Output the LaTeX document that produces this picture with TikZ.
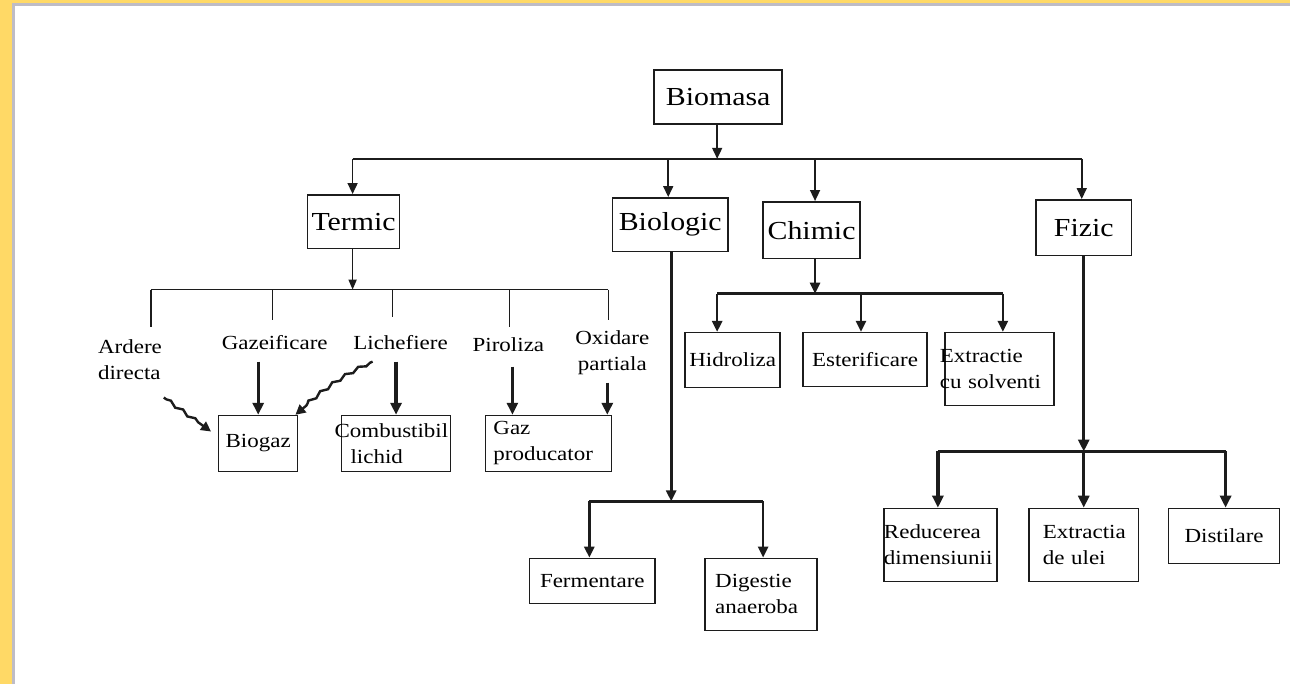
\documentclass[tikz,border=0pt]{standalone}
\usepackage{fontspec}
\setmainfont{Liberation Serif}[FakeStretch=1.15]
\usetikzlibrary{arrows.meta,decorations.pathmorphing}

\definecolor{frameyellow}{RGB}{255,217,102}
\definecolor{framegrey}{RGB}{190,188,198}
\definecolor{ink}{RGB}{28,28,28}

\tikzset{
  bigtxt/.style={font=\fontsize{26}{30}\selectfont},
  smalltxt/.style={font=\fontsize{20}{26}\selectfont},
  box/.style={draw=ink, line width=1.5pt, fill=white, inner sep=0pt, smalltxt, align=center},
  bigbox/.style={box, bigtxt},
  lbl/.style={inner sep=0pt, smalltxt},
  thinline/.style={draw=ink, line width=1.6pt},
  medline/.style={draw=ink, line width=2.6pt},
  thickline/.style={draw=ink, line width=3.2pt},
  tip/.style={-{Triangle[width=10pt,length=11pt]}},
  bigtip/.style={-{Triangle[width=11pt,length=12pt]}},
  wavy/.style={draw=ink, line width=2.4pt, -{Triangle[width=10pt,length=10pt]},
    decorate, decoration={snake, amplitude=1.6pt, segment length=15pt, pre length=3pt, post length=10pt}}
}

\begin{document}
\begin{tikzpicture}[x=1pt, y=-1pt]
  % page frame
  \fill[frameyellow] (0,0) rectangle (1291,685);
  \fill[white] (13,4) rectangle (1291,685);
  \draw[framegrey, line width=3pt] (13.5,685) -- (13.5,4.5) -- (1291,4.5);
  \useasboundingbox (0,0) rectangle (1291,685);

  % ---- top level ----
  \node[bigbox, minimum width=128pt, minimum height=54pt] (biomasa) at (719,97) {Biomasa};
  \node[bigbox, minimum width=92pt,  minimum height=54pt] (termic)   at (354,222) {Termic};
  \node[bigbox, minimum width=116pt, minimum height=54pt] (biologic) at (671,225) {Biologic};
  \node[bigbox, minimum width=97pt,  minimum height=57pt] (chimic)   at (812.5,230.5) {Chimic};
  \node[bigbox, minimum width=96pt,  minimum height=56pt] (fizic)    at (1085,228) {Fizic};

  \coordinate (b0) at (718,159);
  \coordinate (bT) at (353,159);
  \coordinate (bB) at (669,159);
  \coordinate (bC) at (816,159);
  \coordinate (bF) at (1083,159);
  \draw[thinline, tip] (biomasa.south -| b0) -- (b0);
  \draw[thinline, rounded corners=3pt] (bT) -- (bF);
  \draw[thinline, tip] (bT) -- (bT |- termic.north);
  \draw[thinline, tip] (bB) -- (bB |- biologic.north);
  \draw[thinline, tip] (bC) -- (bC |- chimic.north);
  \draw[thinline, tip] (bF) -- (bF |- fizic.north);

  % ---- Termic branch ----
  \node[lbl, align=left, anchor=west] (ardere) at (98,360) {Ardere\\directa};
  \node[lbl] (gazeif) at (275,343) {Gazeificare};
  \node[lbl] (lichef) at (401,343) {Lichefiere};
  \node[lbl] (piroliza) at (509,345) {Piroliza};
  \node[lbl, align=center] (oxidare) at (613,353) {Oxidare\\partiala};

  \coordinate (t0) at (353,290);
  \coordinate (tL) at (151,290);
  \coordinate (tR) at (609,290);
  \draw[thinline, -{Triangle[width=8pt,length=10pt]}] (termic.south -| t0) -- (t0);
  \draw[thinline] (tL) -- (tR);
  \coordinate (k1) at (151,327);
  \coordinate (k2) at (273,320);
  \coordinate (k3) at (393,317);
  \coordinate (k4) at (510,327);
  \coordinate (k5) at (609,320);
  \foreach \k in {k1,k2,k3,k4,k5} \draw[thinline] (\k |- tL) -- (\k);

  \node[box, minimum width=79pt, minimum height=56pt] (biogaz) at (258.5,444) {Biogaz};
  \node[box, align=left, inner xsep=-7pt, text width=123pt, minimum height=56pt] (combust) at (396.5,444)
    {Combustibil\\\hspace*{16pt}lichid};
  \node[box, align=left, inner xsep=8pt, text width=110pt, minimum height=56pt] (gazprod) at (549,444)
    {Gaz\\producator};

  \coordinate (gzS) at (258.5,362);
  \coordinate (lqS) at (396.5,362);
  \coordinate (lqW) at (373,362);
  \coordinate (prS) at (513,367);
  \coordinate (oxS) at (608,383);
  \coordinate (adS) at (164,398);
  \draw[thickline, bigtip] (gzS) -- (gzS |- biogaz.north);
  \draw[thickline, bigtip] (lqS) -- (lqS |- combust.north);
  \draw[medline, bigtip] (prS) -- (prS |- gazprod.north);
  \draw[thickline, bigtip] (oxS) -- (oxS |- gazprod.north);
  \draw[wavy] (lqW) to[out=205, in=40] ([xshift=-3pt]biogaz.north east);
  \draw[wavy] (adS) -- ([xshift=-7pt, yshift=12pt]biogaz.west);

  % ---- Biologic branch ----
  \coordinate (g0) at (672,502);
  \coordinate (gL) at (590,502);
  \coordinate (gR) at (764,502);
  \node[box, minimum width=126pt, minimum height=45pt] (ferment) at (593,581.5) {Fermentare};
  \node[box, align=left, inner xsep=10pt, text width=92pt, minimum height=72pt] (digestie) at (762,595)
    {Digestie\\anaeroba};
  \draw[medline, tip] (biologic.south -| g0) -- (g0);
  \draw[medline] (gL) -- (gR);
  \draw[medline, tip] (gL) -- (gL |- ferment.north);
  \draw[medline, tip] (gR) -- (gR |- digestie.north);

  % ---- Chimic branch ----
  \coordinate (c0) at (816,294);
  \coordinate (cL) at (718,294);
  \coordinate (cM) at (862,294);
  \coordinate (cR) at (1004,294);
  \node[box, minimum width=95pt, minimum height=55pt] (hidroliza) at (733.5,360.5) {Hidroliza};
  \node[box, minimum width=124pt, minimum height=54pt] (esterif) at (866,360) {Esterificare};
  \node[box, align=left, inner xsep=-5pt, text width=119pt, minimum height=73pt] (extrsolv) at (1000.5,369.5)
    {Extractie\\cu solventi};
  \draw[medline, tip] (chimic.south -| c0) -- (c0);
  \draw[medline] (cL) -- (cR);
  \draw[medline, tip] (cL) -- (cL |- hidroliza.north);
  \draw[medline, tip] (cM) -- (cM |- esterif.north);
  \draw[medline, tip] (cR) -- (cR |- extrsolv.north);

  % ---- Fizic branch ----
  \coordinate (f0) at (1085,452);
  \coordinate (fL) at (939,452);
  \coordinate (fR) at (1227,452);
  \node[box, align=left, inner xsep=0pt, text width=113pt, minimum height=73pt] (reducere) at (941.5,545.5)
    {Reducerea\\dimensiunii};
  \node[box, align=left, inner xsep=14pt, text width=82pt, minimum height=73pt] (extrulei) at (1085,545.5)
    {Extractia\\de ulei};
  \node[box, minimum width=111pt, minimum height=55pt] (distilare) at (1225.5,536.5) {Distilare};
  \draw[thickline, bigtip] (fizic.south -| f0) -- (f0);
  \draw[thickline] (fL) -- (fR);
  \draw[thickline, bigtip] (fL) -- (fL |- reducere.north);
  \draw[thickline, bigtip] (f0) -- (f0 |- extrulei.north);
  \draw[thickline, bigtip] (fR) -- (fR |- distilare.north);
\end{tikzpicture}
\end{document}
